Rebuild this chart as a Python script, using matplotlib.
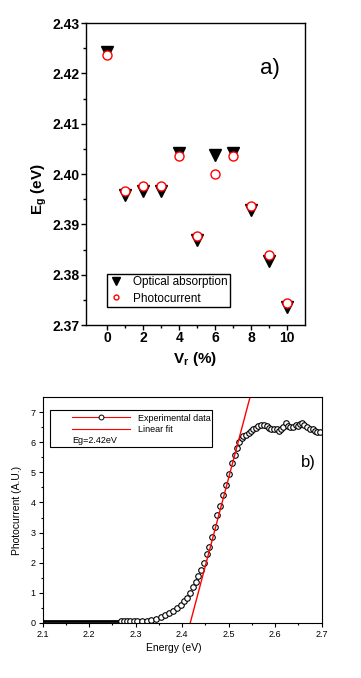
import matplotlib
matplotlib.use('Agg')
import matplotlib.pyplot as plt
from matplotlib.lines import Line2D
from matplotlib.patches import Rectangle

plt.rcParams['font.family'] = ['Liberation Sans', 'DejaVu Sans']
plt.rcParams['mathtext.default'] = 'regular'

# panel a) band gap vs Vr
vr = [0, 1, 2, 3, 4, 5, 6, 7, 8, 9, 10]
eg_optical = [2.4242, 2.3959, 2.3966, 2.3966, 2.4041, 2.3868, 2.4038, 2.4041, 2.3929, 2.3828, 2.3736]
eg_photo = [2.4237, 2.3966, 2.3976, 2.3976, 2.4035, 2.3876, 2.4000, 2.4035, 2.3937, 2.3840, 2.3744]

# panel b) photocurrent spectrum
base_e = [2.100, 2.266]
base_pc = [0.04, 0.04]
exp_e = [2.268, 2.275, 2.282, 2.289, 2.296, 2.303, 2.313, 2.324, 2.334, 2.344,
         2.354, 2.363, 2.372, 2.381, 2.389, 2.397, 2.404, 2.410, 2.417, 2.424,
         2.430, 2.435, 2.441, 2.447, 2.453, 2.458, 2.464, 2.471, 2.476, 2.482,
         2.488, 2.495, 2.501, 2.507, 2.514, 2.518, 2.523, 2.528, 2.531, 2.537,
         2.543, 2.548, 2.553, 2.559, 2.564, 2.569, 2.576, 2.582, 2.587, 2.592,
         2.597, 2.603, 2.608, 2.612, 2.617, 2.623, 2.628, 2.633, 2.639, 2.644,
         2.649, 2.653, 2.658, 2.663, 2.669, 2.675, 2.681, 2.686, 2.691, 2.696]
exp_pc = [0.05, 0.05, 0.05, 0.06, 0.06, 0.06, 0.07, 0.07, 0.10, 0.13,
          0.19, 0.25, 0.31, 0.39, 0.50, 0.59, 0.73, 0.83, 1.00, 1.18,
          1.37, 1.55, 1.75, 2.00, 2.29, 2.53, 2.84, 3.17, 3.58, 3.88,
          4.25, 4.58, 4.95, 5.30, 5.58, 5.80, 6.00, 6.14, 6.21, 6.26,
          6.32, 6.37, 6.44, 6.48, 6.55, 6.58, 6.59, 6.55, 6.48, 6.44,
          6.44, 6.46, 6.39, 6.44, 6.52, 6.64, 6.55, 6.50, 6.52, 6.57,
          6.55, 6.61, 6.64, 6.58, 6.50, 6.46, 6.44, 6.39, 6.35, 6.35]
fit_e = [2.4176, 2.5459]
fit_pc = [0.0, 7.5]

fig = plt.figure(figsize=(3.61, 6.78), dpi=100)

# ---- top panel
ax1 = fig.add_axes([0.238, 0.5206, 0.607, 0.4454])
ax1.plot(vr, eg_optical, linestyle='none', marker='v', color='black', markersize=8)
ax1.plot(vr, eg_photo, linestyle='none', marker='o', markerfacecolor='white',
         markeredgecolor='red', markeredgewidth=1.0, markersize=6.5)
ax1.set_xlim(-1.2, 11)
ax1.set_ylim(2.37, 2.43)
ax1.set_xticks([0, 2, 4, 6, 8, 10])
ax1.set_xticks([1, 3, 5, 7, 9], minor=True)
ax1.set_yticks([2.37, 2.38, 2.39, 2.40, 2.41, 2.42, 2.43])
ax1.set_yticks([2.375, 2.385, 2.395, 2.405, 2.415, 2.425], minor=True)
ax1.set_yticklabels(['2.37', '2.38', '2.39', '2.40', '2.41', '2.42', '2.43'])
ax1.tick_params(which='major', direction='out', length=3.6, width=1, labelsize=10, pad=1)
ax1.tick_params(which='minor', direction='out', length=2.2, width=1)
for lab in ax1.get_xticklabels() + ax1.get_yticklabels():
    lab.set_fontweight('bold')
for sp in ax1.spines.values():
    sp.set_linewidth(1.0)
ax1.set_xlabel('V$_r$ (%)', fontsize=11, fontweight='bold', labelpad=3)
ax1.set_ylabel('E$_g$ (eV)', fontsize=11, fontweight='bold')
ax1.yaxis.set_label_coords(-0.17, 0.45)
ax1.text(0.84, 0.85, 'a)', transform=ax1.transAxes, fontsize=16, ha='center', va='center')

h1 = Line2D([], [], linestyle='none', marker='v', color='black', markersize=6)
h2 = Line2D([], [], linestyle='none', marker='o', markerfacecolor='white',
            markeredgecolor='red', markeredgewidth=1.0, markersize=3.5)
leg1 = ax1.legend([h1, h2], ['Optical absorption', 'Photocurrent'], loc='lower left',
                  bbox_to_anchor=(0.096, 0.06), fontsize=8.5, frameon=True, fancybox=False,
                  edgecolor='black', framealpha=1, borderpad=0.2, handlelength=1.2,
                  handletextpad=0.8, labelspacing=0.35, borderaxespad=0)
leg1.get_frame().set_linewidth(1.0)

# ---- bottom panel
ax2 = fig.add_axes([0.118, 0.0816, 0.773, 0.3324])
ax2.plot(base_e, base_pc, color='black', linewidth=2.0)
ax2.plot(exp_e, exp_pc, linestyle='none', marker='o', markerfacecolor='white',
         markeredgecolor='black', markeredgewidth=0.8, markersize=4)
ax2.plot(fit_e, fit_pc, color='red', linewidth=1.0)
ax2.set_xlim(2.1, 2.7)
ax2.set_ylim(0, 7.5)
ax2.set_xticks([2.1, 2.2, 2.3, 2.4, 2.5, 2.6, 2.7])
ax2.set_xticks([2.15, 2.25, 2.35, 2.45, 2.55, 2.65], minor=True)
ax2.set_yticks([0, 1, 2, 3, 4, 5, 6, 7])
ax2.set_yticks([0.5, 1.5, 2.5, 3.5, 4.5, 5.5, 6.5], minor=True)
ax2.tick_params(which='major', direction='out', length=3, width=0.8, labelsize=6.5, pad=2)
ax2.tick_params(which='minor', direction='out', length=1.5, width=0.8)
for sp in ax2.spines.values():
    sp.set_linewidth(0.8)
ax2.set_xlabel('Energy (eV)', fontsize=7.5, labelpad=4)
ax2.xaxis.set_label_coords(0.47, -0.09)
ax2.set_ylabel('Photocurrent (A.U.)', fontsize=7.5, labelpad=6)
ax2.text(0.951, 0.709, 'b)', transform=ax2.transAxes, fontsize=12, ha='center', va='center')

ax2.add_patch(Rectangle((0.026, 0.78), 0.581, 0.164, transform=ax2.transAxes,
                        fill=False, edgecolor='black', linewidth=0.8))
he = Line2D([], [], color='red', linewidth=0.8, marker='o', markerfacecolor='white',
            markeredgecolor='black', markeredgewidth=0.7, markersize=3.5)
hf = Line2D([], [], color='red', linewidth=0.8)
leg2 = ax2.legend([he, hf], ['Experimental data', 'Linear fit'], loc='upper left',
                  bbox_to_anchor=(0.104, 0.928), fontsize=6.5, frameon=False,
                  borderpad=0, handlelength=6.5, handletextpad=0.8, labelspacing=0.25,
                  borderaxespad=0)
ax2.text(0.105, 0.808, 'Eg=2.42eV', transform=ax2.transAxes, fontsize=6.5, ha='left', va='center')

fig.savefig('out.png', dpi=100)
